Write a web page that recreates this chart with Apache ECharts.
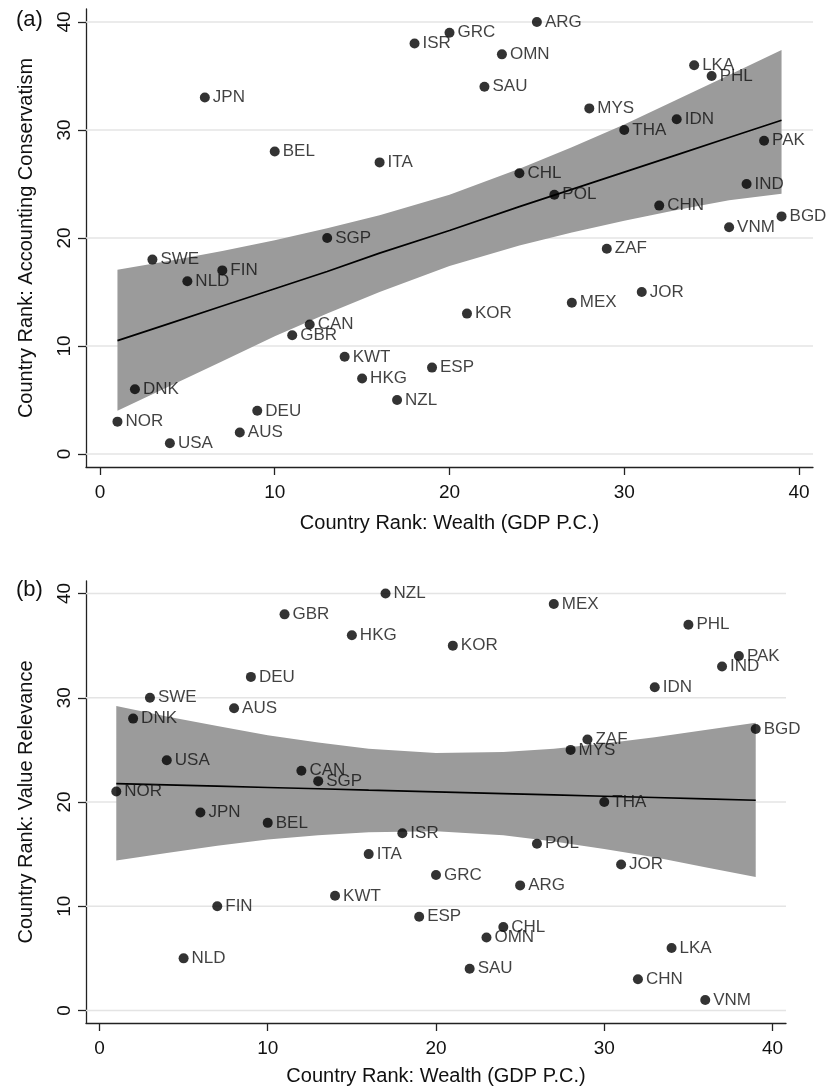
<!DOCTYPE html>
<html>
<head>
<meta charset="utf-8">
<script src="https://cdn.jsdelivr.net/npm/echarts@6/dist/echarts.min.js"></script>
<style>
  html, body { margin: 0; padding: 0; background: #ffffff; }
  #chart { width: 838px; height: 1090px; }
</style>
</head>
<body>
<div id="chart"></div>
<script>
// ---- data ----
const countries = ['NOR','DNK','SWE','USA','NLD','JPN','FIN','AUS','DEU','BEL','GBR','CAN','SGP','KWT','HKG','ITA','NZL','ISR','ESP','GRC','KOR','SAU','OMN','CHL','ARG','POL','MEX','MYS','ZAF','THA','JOR','CHN','IDN','LKA','PHL','VNM','IND','PAK','BGD'];
const wealthRank = [1,2,3,4,5,6,7,8,9,10,11,12,13,14,15,16,17,18,19,20,21,22,23,24,25,26,27,28,29,30,31,32,33,34,35,36,37,38,39];
const conservatismRank = [3,6,18,1,16,33,17,2,4,28,11,12,20,9,7,27,5,38,8,39,13,34,37,26,40,24,14,32,19,30,15,23,31,36,35,21,25,29,22];
const relevanceRank = [21,28,30,24,5,19,10,29,32,18,38,23,22,11,36,15,40,17,9,13,35,4,7,8,12,16,39,25,26,20,14,3,31,6,37,1,33,34,27];

// fitted lines and 95% bands, read at these wealth ranks
const fitX   = [1, 4, 7, 10, 13, 16, 20, 24, 27, 30, 33, 36, 39];
const fitA   = [10.5, 12.1, 13.7, 15.3, 16.9, 18.6, 20.7, 22.9, 24.5, 26.1, 27.7, 29.3, 30.9];
const upperA = [17.05, 17.9, 18.8, 19.8, 20.9, 22.1, 24.0, 26.4, 28.4, 30.5, 32.8, 35.1, 37.4];
const lowerA = [4.0, 6.3, 8.6, 10.9, 13.0, 15.0, 17.4, 19.3, 20.5, 21.6, 22.6, 23.5, 24.1];
const fitB   = [21.77, 21.64, 21.52, 21.39, 21.27, 21.14, 20.97, 20.80, 20.68, 20.55, 20.43, 20.30, 20.17];
const upperB = [29.2, 28.2, 27.3, 26.4, 25.7, 25.1, 24.7, 24.8, 25.1, 25.6, 26.2, 26.9, 27.6];
const lowerB = [14.4, 15.1, 15.8, 16.4, 16.8, 17.1, 17.2, 16.8, 16.2, 15.5, 14.7, 13.75, 12.8];

const tickValues = [0, 10, 20, 30, 40];
const xTitle = 'Country Rank: Wealth (GDP P.C.)';
const yTitleA = 'Country Rank: Accounting Conservatism';
const yTitleB = 'Country Rank: Value Relevance';

// ---- helpers ----
const FONT = '"Liberation Sans", Arial, sans-serif';
const TXT = '#111111';
const X_MIN = -0.8, X_MAX = 40.8, Y_MIN = -1.2, Y_MAX = 41.2;

function xAxisCfg(gridIndex, nameGap) {
  return {
    type: 'value', gridIndex: gridIndex, min: X_MIN, max: X_MAX,
    axisLine: { show: true, onZero: false, lineStyle: { color: '#222', width: 1.3 } },
    axisTick: { show: true, customValues: tickValues, length: 8, lineStyle: { color: '#222', width: 1.3 } },
    axisLabel: { customValues: tickValues, fontSize: 19, color: TXT, fontFamily: FONT, margin: 16 },
    splitLine: { show: false },
    name: xTitle, nameLocation: 'middle', nameGap: nameGap,
    nameTextStyle: { fontSize: 20, color: TXT, fontFamily: FONT }
  };
}
function yAxisCfg(gridIndex, title, nameGap) {
  return {
    type: 'value', gridIndex: gridIndex, min: Y_MIN, max: Y_MAX,
    axisLine: { show: true, onZero: false, lineStyle: { color: '#222', width: 1.3 } },
    axisTick: { show: true, customValues: tickValues, length: 8, lineStyle: { color: '#222', width: 1.3 } },
    axisLabel: { customValues: tickValues, fontSize: 19, color: TXT, fontFamily: FONT, margin: 12, rotate: 90 },
    splitLine: { show: false },
    name: title, nameLocation: 'middle', nameGap: nameGap,
    nameTextStyle: { fontSize: 20, color: TXT, fontFamily: FONT }
  };
}
function gridSeries(idx) {
  return {
    type: 'custom', xAxisIndex: idx, yAxisIndex: idx, z: 1, silent: true,
    data: tickValues.map(v => [0, v]),
    renderItem: function (params, api) {
      const v = api.value(1);
      const p1 = api.coord([X_MIN, v]);
      const p2 = api.coord([X_MAX, v]);
      return { type: 'line', shape: { x1: p1[0], y1: p1[1], x2: p2[0], y2: p2[1] },
               style: { stroke: '#e4e4e4', lineWidth: 1.6 } };
    }
  };
}
function bandSeries(idx, upper, lower) {
  return {
    type: 'custom', xAxisIndex: idx, yAxisIndex: idx, z: 2, silent: true,
    data: [[fitX[0], upper[0]]],
    renderItem: function (params, api) {
      const pts = [];
      for (let i = 0; i < fitX.length; i++) pts.push(api.coord([fitX[i], upper[i]]));
      for (let i = fitX.length - 1; i >= 0; i--) pts.push(api.coord([fitX[i], lower[i]]));
      return { type: 'polygon', shape: { points: pts, smooth: 0 }, style: { fill: '#9b9b9b' } };
    }
  };
}
function fitSeries(idx, fit) {
  return {
    type: 'line', xAxisIndex: idx, yAxisIndex: idx, z: 3, silent: true,
    data: fitX.map((x, i) => [x, fit[i]]),
    symbol: 'none', lineStyle: { color: '#000', width: 1.7 }
  };
}
function scatterSeries(idx, ys) {
  return {
    type: 'scatter', xAxisIndex: idx, yAxisIndex: idx, z: 4,
    symbol: 'circle', symbolSize: 10,
    itemStyle: { color: '#000' },
    label: { show: true, position: 'right', distance: 3, formatter: '{b}',
             fontSize: 17, color: TXT, fontFamily: FONT },
    data: countries.map((c, i) => ({ name: c, value: [wealthRank[i], ys[i]] }))
  };
}

const chart = echarts.init(document.getElementById('chart'), null, { renderer: 'canvas' });
chart.setOption({
  backgroundColor: '#ffffff',
  animation: false,
  title: [
    { text: '(a)', left: 11, top: 4, textStyle: { fontSize: 22, fontWeight: 'normal', color: TXT, fontFamily: FONT } },
    { text: '(b)', left: 11, top: 574, textStyle: { fontSize: 22, fontWeight: 'normal', color: TXT, fontFamily: FONT } }
  ],
  grid: [
    { left: 86, top: 9, width: 727, height: 458 },
    { left: 86, top: 581, width: 700, height: 442 }
  ],
  xAxis: [xAxisCfg(0, 46), xAxisCfg(1, 43)],
  yAxis: [yAxisCfg(0, yTitleA, 50), yAxisCfg(1, yTitleB, 50)],
  series: [
    gridSeries(0), bandSeries(0, upperA, lowerA), fitSeries(0, fitA), scatterSeries(0, conservatismRank),
    gridSeries(1), bandSeries(1, upperB, lowerB), fitSeries(1, fitB), scatterSeries(1, relevanceRank)
  ]
});
</script>
</body>
</html>
